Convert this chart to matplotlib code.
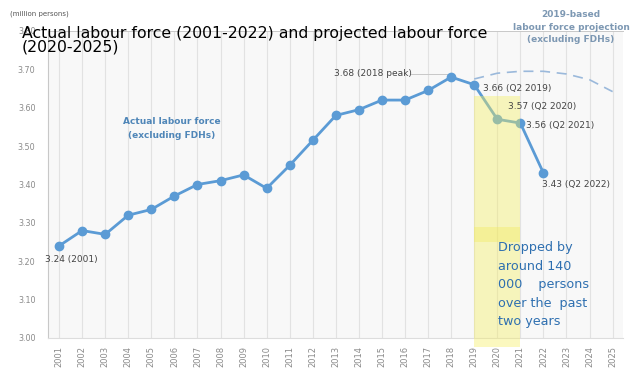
import numpy as np
import matplotlib
matplotlib.use('Agg')
import matplotlib.pyplot as plt

years = list(range(2001, 2026))
actual_years = list(range(2001, 2023))
actual = [3.24, 3.28, 3.27, 3.32, 3.335, 3.37, 3.40, 3.41, 3.425, 3.39, 3.45,
          3.515, 3.58, 3.595, 3.62, 3.62, 3.645, 3.68, 3.66, 3.57, 3.56, 3.43]
proj_years = [2019, 2020, 2021, 2022, 2023, 2024, 2025]
projected = [3.675, 3.69, 3.695, 3.695, 3.688, 3.673, 3.642]

line_c = '#5b9bd5'
grey = '#8a8a8a'
lab_c = '#444444'

fig = plt.figure(figsize=(6.44, 3.78), dpi=100)
ax = fig.add_axes([48/644, 1-338/378, 575/644, 307/378])
ax.set_facecolor('#f8f8f8')

ax.set_xlim(2000.52, 2025.45)
ax.set_ylim(3.00, 3.80)

# vertical grid
for y in years:
    ax.axvline(y, color='#e2e2e2', lw=0.8, zorder=0)

ax.plot(proj_years, projected, ls=(0, (6, 4)), color='#9bb9db', lw=1.2, zorder=2)
ax.plot(actual_years, actual, color=line_c, lw=2.0, marker='o', ms=6, zorder=3)

# highlighted period (semi-transparent, drawn over the line)
ax.axvspan(2019, 2021, ymin=0, ymax=(3.63-3.0)/0.8, color='#f5ee60', alpha=0.4, lw=0, zorder=4)
ax.fill_between([2019, 2021], 3.25, 3.29, color='#f2ea55', alpha=0.35, lw=0, zorder=4)
ax.fill_between([2019, 2021], -0.03, 0, transform=ax.get_xaxis_transform(),
                color='#f5ee60', alpha=0.4, lw=0, zorder=4, clip_on=False)

# annotations
fs = 6.5
ax.text(2000.4, 3.204, '3.24 (2001)', fontsize=fs, color=lab_c, va='center', ha='left')
ax.text(2019.4, 3.649, '3.66 (Q2 2019)', fontsize=fs, color=lab_c, va='center', zorder=5)
ax.text(2020.45, 3.602, '3.57 (Q2 2020)', fontsize=fs, color=lab_c, va='center', zorder=5)
ax.text(2021.25, 3.555, '3.56 (Q2 2021)', fontsize=fs, color=lab_c, va='center')
ax.text(2021.95, 3.399, '3.43 (Q2 2022)', fontsize=fs, color=lab_c, va='center')
ax.text(2014.6, 3.688, '3.68 (2018 peak)', fontsize=fs, color=lab_c, va='center', ha='center')
ax.plot([2016.25, 2017.8], [3.688, 3.688], color='#c8c8c8', lw=0.7)

ax.text(2005.9, 3.545, 'Actual labour force\n(excluding FDHs)', fontsize=6.5, color='#4f86b8',
        fontweight='bold', ha='center', va='center', linespacing=1.7)
ax.text(2023.2, 3.81, '2019-based\nlabour force projection\n(excluding FDHs)', fontsize=6.5,
        color='#7d98b3', fontweight='bold', ha='center', va='center', linespacing=1.5)
ax.text(2020.05, 3.139, 'Dropped by\naround 140\n000    persons\nover the  past\ntwo years', fontsize=9.2,
        color='#2e6fb0', ha='left', va='center', linespacing=1.55, zorder=5)

ax.set_xticks(years)
ax.set_xticklabels([str(y) for y in years], rotation=90, fontsize=6, color=grey)
ax.set_yticks(np.arange(3.0, 3.81, 0.1))
ax.set_yticklabels(['%.2f' % v for v in np.arange(3.0, 3.81, 0.1)], fontsize=5.8, color=grey)
ax.tick_params(axis='x', length=0, pad=6)
ax.tick_params(axis='y', length=0, pad=9)
ax.spines['right'].set_visible(False)
ax.spines['left'].set_color('#c8c8c8')
ax.spines['bottom'].set_color('#dddddd')
ax.spines['top'].set_color('#c8c8c8')
ax.spines['top'].set_linewidth(0.7)

fig.text(10/644, 1-14/378, '(million persons)', fontsize=5, color='#555555', va='center')
fig.text(22/644, 1-40/378, 'Actual labour force (2001-2022) and projected labour force\n(2020-2025)',
         fontsize=11.3, color='black', va='center', ha='left', linespacing=0.9)

fig.savefig('out.png', dpi=100)
